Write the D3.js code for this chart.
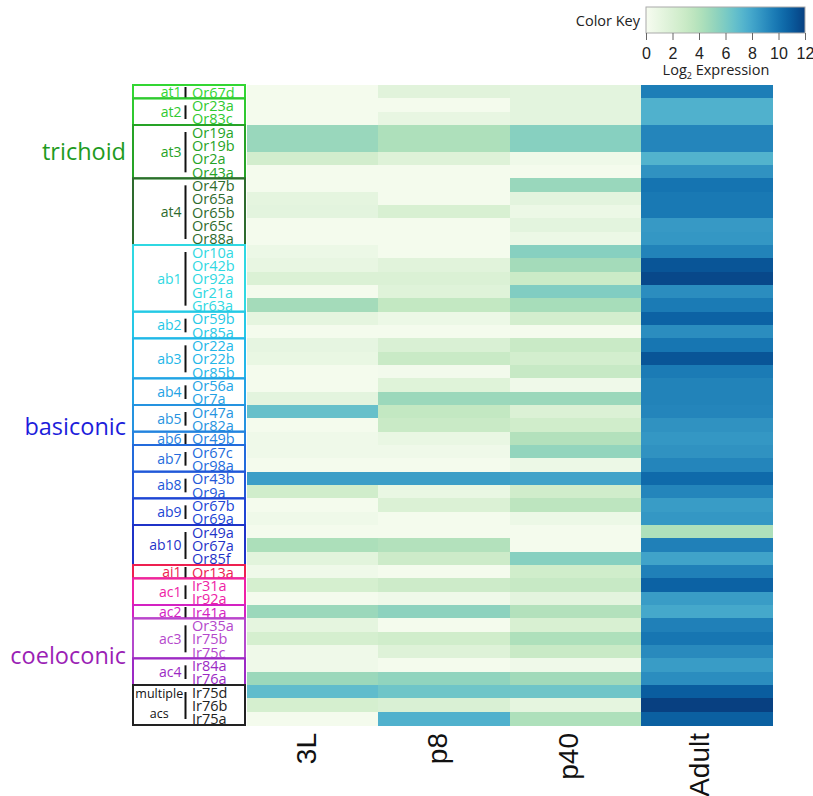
<!DOCTYPE html>
<html>
<head>
<meta charset="utf-8">
<script src="https://cdn.jsdelivr.net/npm/d3@7"></script>
<style>
  body { margin: 0; background: #fff; }
  svg { display: block; }
</style>
</head>
<body>
<svg id="chart" width="813" height="796"></svg>
<script>
// stages (columns)
const stages = ["3L", "p8", "p40", "Adult"]

// sensilla and the receptors in each, top to bottom
const sensilla = ["at1", "at2", "at3", "at4", "ab1", "ab2", "ab3", "ab4", "ab5", "ab6",
    "ab7", "ab8", "ab9", "ab10", "ai1", "ac1", "ac2", "ac3", "ac4", "multiple acs"]
const sensillumReceptors = [
    ["Or67d"],
    ["Or23a", "Or83c"],
    ["Or19a", "Or19b", "Or2a", "Or43a"],
    ["Or47b", "Or65a", "Or65b", "Or65c", "Or88a"],
    ["Or10a", "Or42b", "Or92a", "Gr21a", "Gr63a"],
    ["Or59b", "Or85a"],
    ["Or22a", "Or22b", "Or85b"],
    ["Or56a", "Or7a"],
    ["Or47a", "Or82a"],
    ["Or49b"],
    ["Or67c", "Or98a"],
    ["Or43b", "Or9a"],
    ["Or67b", "Or69a"],
    ["Or49a", "Or67a", "Or85f"],
    ["Or13a"],
    ["Ir31a", "Ir92a"],
    ["Ir41a"],
    ["Or35a", "Ir75b", "Ir75c"],
    ["Ir84a", "Ir76a"],
    ["Ir75d", "Ir76b", "Ir75a"]
]
const classes = ["trichoid", "basiconic", "coeloconic"]
const classSensilla = [
    ["at1", "at2", "at3", "at4"],
    ["ab1", "ab2", "ab3", "ab4", "ab5", "ab6", "ab7", "ab8", "ab9", "ab10"],
    ["ai1", "ac1", "ac2", "ac3", "ac4", "multiple acs"]
]

// log2 expression, one value per receptor (same order as above)
const l3Values = [0.2, 0.2, 0.2, 5.0, 5.0, 2.5, 0.2, 0.2, 1.2, 1.3, 0.2, 0.2,
    0.7, 1.0, 1.9, 0.2, 4.6, 1.2, 0.2, 1.1, 0.9, 0.2, 0.2, 1.3,
    6.7, 0.2, 0.5, 0.5, 0.2, 8.3, 2.6, 0.2, 0.5, 0.2, 4.3, 1.4,
    0.5, 2.3, 0.2, 4.9, 1.2, 2.3, 0.5, 0.5, 4.9, 6.9, 2.3, 0.2]
const p8Values = [1.5, 0.2, 1.0, 4.2, 4.2, 1.7, 0.2, 0.2, 0.2, 2.1, 0.2, 0.2,
    0.2, 1.5, 1.9, 1.6, 3.3, 0.7, 0.2, 2.0, 3.0, 0.3, 1.6, 4.9,
    3.3, 3.0, 0.9, 0.5, 0.2, 8.3, 0.9, 1.9, 0.2, 0.2, 4.0, 2.8,
    0.2, 2.8, 0.5, 5.4, 0.2, 2.6, 1.7, 0.2, 5.3, 6.4, 2.0, 7.5]
const p40Values = [1.3, 1.3, 1.3, 5.6, 5.6, 0.5, 0.2, 5.0, 1.3, 0.7, 1.3, 0.7,
    5.6, 4.6, 2.9, 5.8, 4.5, 2.4, 0.2, 3.0, 2.4, 3.1, 0.5, 4.9,
    1.9, 2.6, 4.0, 5.2, 0.7, 8.1, 2.6, 3.6, 0.7, 0.2, 0.2, 5.6,
    2.6, 3.1, 1.3, 4.0, 2.1, 4.2, 3.0, 0.5, 4.7, 6.4, 1.2, 4.2]
const adultValues = [9.6, 7.5, 7.5, 9.3, 9.3, 7.4, 8.8, 10.0, 9.8, 9.8, 8.5, 8.6,
    9.4, 11.2, 11.7, 9.0, 9.7, 10.7, 9.0, 9.9, 11.2, 9.7, 9.4, 9.4,
    9.3, 8.8, 8.6, 8.8, 9.3, 10.4, 9.3, 8.4, 8.6, 4.2, 9.5, 8.1,
    9.5, 10.7, 8.4, 7.9, 9.5, 9.9, 9.1, 8.4, 9.0, 10.9, 12.0, 10.8]

const keyTicks = [0, 2, 4, 6, 8, 10, 12]

// styling
const sensillumColor = {
    "at1": "#33d633", "at2": "#30c930", "at3": "#26a326", "at4": "#2e6b2e",
    "ab1": "#2fd8e2", "ab2": "#25c8e6", "ab3": "#22b6e8", "ab4": "#23a2e4",
    "ab5": "#2593e0", "ab6": "#2582df", "ab7": "#236bdc", "ab8": "#2257d8",
    "ab9": "#2045d4", "ab10": "#1f33c8", "ai1": "#ee2050", "ac1": "#ee22a6",
    "ac2": "#d422c2", "ac3": "#b448cc", "ac4": "#9c2ac4", "multiple acs": "#222"
}
const classColor = { trichoid: "#1e9b1e", basiconic: "#1d1ddb", coeloconic: "#9b1fb5" }
const classLabelRow = { trichoid: 5.0, basiconic: 25.6, coeloconic: 42.8 }

const receptors = sensillumReceptors.flat()
const columns = [l3Values, p8Values, p40Values, adultValues]

const svg = d3.select("#chart")
const font = "'Open Sans', sans-serif"

const x = d3.scaleBand().domain(stages).range([247, 772])
const y = d3.scaleBand().domain(receptors).range([85, 725])
const color = d3.scaleSequential(d3.interpolateGnBu).domain([0, 12])

// heatmap cells
const cells = []
stages.forEach((s, j) => receptors.forEach((r, i) => cells.push({ stage: s, receptor: r, value: columns[j][i] })))

svg.append("g")
    .attr("shape-rendering", "crispEdges")
    .selectAll("rect")
    .data(cells)
    .join("rect")
    .attr("x", d => x(d.stage))
    .attr("y", d => y(d.receptor))
    .attr("width", x.bandwidth() + 0.5)
    .attr("height", y.bandwidth() + 0.5)
    .attr("fill", d => color(d.value))

// column labels
svg.append("g")
    .selectAll("text")
    .data(stages)
    .join("text")
    .attr("transform", d => `translate(${x(d) + x.bandwidth() / 2 + 3},733) rotate(-90)`)
    .attr("text-anchor", "end")
    .attr("font-family", "'Liberation Sans', Arial, sans-serif")
    .attr("font-size", 28)
    .attr("fill", "#111")
    .text(d => d)

// sensillum boxes
const boxLeft = 133, boxRight = 245, barX = 185.5
const groups = sensilla.map((s, k) => ({ name: s, receptors: sensillumReceptors[k] }))

const g = svg.append("g").selectAll("g").data(groups).join("g")

g.append("rect")
    .attr("x", boxLeft)
    .attr("y", d => y(d.receptors[0]))
    .attr("width", boxRight - boxLeft)
    .attr("height", d => y.bandwidth() * d.receptors.length)
    .attr("fill", "none")
    .attr("stroke", d => sensillumColor[d.name])
    .attr("stroke-width", 2)

g.append("line")
    .attr("x1", barX).attr("x2", barX)
    .attr("y1", d => y(d.receptors[0]) + (d.receptors.length > 1 ? 7 : 2))
    .attr("y2", d => y(d.receptors[d.receptors.length - 1]) + y.bandwidth() - (d.receptors.length > 1 ? 6 : 0))
    .attr("stroke", "#111")
    .attr("stroke-width", 2)

// sensillum name
g.filter(d => d.name != "multiple acs")
    .append("text")
    .attr("x", barX - 4)
    .attr("y", d => y(d.receptors[0]) + y.bandwidth() * d.receptors.length / 2)
    .attr("dy", "0.38em")
    .attr("text-anchor", "end")
    .attr("font-family", font)
    .attr("font-size", 14)
    .attr("fill", d => sensillumColor[d.name])
    .text(d => d.name)

const multi = g.filter(d => d.name == "multiple acs")
multi.append("text")
    .attr("x", (boxLeft + barX) / 2)
    .attr("y", d => y(d.receptors[0]) + y.bandwidth() * 1.0)
    .attr("text-anchor", "middle")
    .attr("font-family", font)
    .attr("font-size", 12.5)
    .attr("fill", "#111")
    .text("multiple")
multi.append("text")
    .attr("x", (boxLeft + barX) / 2)
    .attr("y", d => y(d.receptors[0]) + y.bandwidth() * 2.45)
    .attr("text-anchor", "middle")
    .attr("font-family", font)
    .attr("font-size", 12.5)
    .attr("fill", "#111")
    .text("acs")

// receptor names
g.selectAll("text.rec")
    .data(d => d.receptors.map(r => ({ r, name: d.name })))
    .join("text")
    .attr("class", "rec")
    .attr("x", 192)
    .attr("y", d => y(d.r) + y.bandwidth() / 2)
    .attr("dy", "0.42em")
    .attr("font-family", font)
    .attr("font-size", 14.5)
    .attr("fill", d => sensillumColor[d.name])
    .text(d => d.r)

// class labels
svg.append("g")
    .selectAll("text")
    .data(classes)
    .join("text")
    .attr("x", 126)
    .attr("y", d => y.range()[0] + y.step() * classLabelRow[d])
    .attr("dy", "0.35em")
    .attr("text-anchor", "end")
    .attr("font-family", font)
    .attr("font-size", 23.5)
    .attr("fill", d => classColor[d])
    .text(d => d)

// color key
const kx = d3.scaleLinear().domain([0, 12]).range([646, 805])
const defs = svg.append("defs")
const grad = defs.append("linearGradient").attr("id", "keygrad")
d3.range(0, 1.001, 0.05).forEach(t => {
    grad.append("stop").attr("offset", t).attr("stop-color", d3.interpolateGnBu(t))
})
svg.append("rect")
    .attr("x", kx(0)).attr("y", 7)
    .attr("width", kx(12) - kx(0)).attr("height", 26)
    .attr("fill", "url(#keygrad)")
    .attr("stroke", "#aaa")
    .attr("stroke-width", 1)

svg.append("g")
    .attr("transform", "translate(0,33)")
    .call(d3.axisBottom(kx).tickValues(keyTicks).tickSize(7).tickPadding(8))
    .call(a => a.select(".domain").remove())
    .call(a => a.selectAll("line").attr("stroke", "#666"))
    .call(a => a.selectAll("text")
        .attr("font-family", "'Liberation Sans', Arial, sans-serif")
        .attr("font-size", 16)
        .attr("fill", "#222"))

svg.append("text")
    .attr("x", 640).attr("y", 26)
    .attr("text-anchor", "end")
    .attr("font-family", font)
    .attr("font-size", 14.5)
    .attr("fill", "#222")
    .text("Color Key")

const lg = svg.append("text")
    .attr("x", 716).attr("y", 75)
    .attr("text-anchor", "middle")
    .attr("font-family", font)
    .attr("font-size", 14.5)
    .attr("fill", "#222")
lg.append("tspan").text("Log")
lg.append("tspan").attr("dy", 4).attr("font-size", 9).text("2")
lg.append("tspan").attr("dy", -4).text(" Expression")
</script>
</body>
</html>
